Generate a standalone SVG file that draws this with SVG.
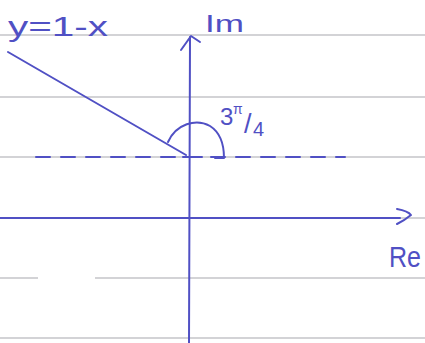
<svg xmlns="http://www.w3.org/2000/svg" width="425" height="343" viewBox="0 0 425 343">
<style>
.paper{stroke:#a8a8ad;stroke-width:1.2;fill:none}
.pen{stroke:#5050c4;stroke-width:2;fill:none;stroke-linecap:round;stroke-linejoin:round}
.txt{fill:#5050c4;font-family:"Liberation Sans",Arial,sans-serif}
</style>
<rect width="425" height="343" fill="#ffffff"/>
<g id="paper">
<line class="paper" x1="0" y1="35" x2="425" y2="35"/>
<line class="paper" x1="0" y1="97" x2="425" y2="97"/>
<line class="paper" x1="0" y1="157" x2="425" y2="157"/>
<line class="paper" x1="0" y1="218" x2="425" y2="218"/>
<line class="paper" x1="0" y1="278" x2="38" y2="278"/>
<line class="paper" x1="95" y1="278" x2="425" y2="278"/>
<line class="paper" x1="0" y1="338" x2="425" y2="338"/>
</g>
<g id="connectors">
<g id="im-axis">
<line class="pen" x1="190" y1="37" x2="189" y2="343"/>
<path class="pen" d="M181,50 L191,36 L200,42"/>
</g>
<g id="re-axis">
<line class="pen" x1="0" y1="218" x2="400" y2="218" stroke-width="2.4"/>
<path class="pen" d="M397,209 Q408,211 411,215 Q405,220 397,224"/>
</g>
<line id="dashed" class="pen" x1="36" y1="157" x2="345" y2="157" stroke-dasharray="14 11" stroke-width="2.4"/>
<line id="ray" class="pen" x1="8" y1="52" x2="186" y2="155" stroke-width="2.2"/>
<path id="angle-arc" class="pen" d="M168,142 C176,124 196,118 210,126 C221,133 224,145 224,158 L215,158"/>
<line id="origin" class="pen" x1="183" y1="157" x2="202" y2="157" stroke-width="4"/>
</g>
<g id="label-line"><text class="txt" x="8" y="36" font-size="27" textLength="100" lengthAdjust="spacingAndGlyphs">y=1-x</text></g>
<g id="label-im"><text class="txt" x="205" y="32" font-size="23" textLength="39" lengthAdjust="spacingAndGlyphs">Im</text></g>
<g id="label-angle"><text class="txt" font-size="24"><tspan x="220" y="125">3</tspan><tspan x="233" y="114" font-size="14">π</tspan><tspan x="244" y="133" font-size="27">/</tspan><tspan x="253" y="136" font-size="20">4</tspan></text></g>
<g id="label-re"><text class="txt" x="389" y="267" font-size="29" textLength="32" lengthAdjust="spacingAndGlyphs">Re</text></g>
</svg>
